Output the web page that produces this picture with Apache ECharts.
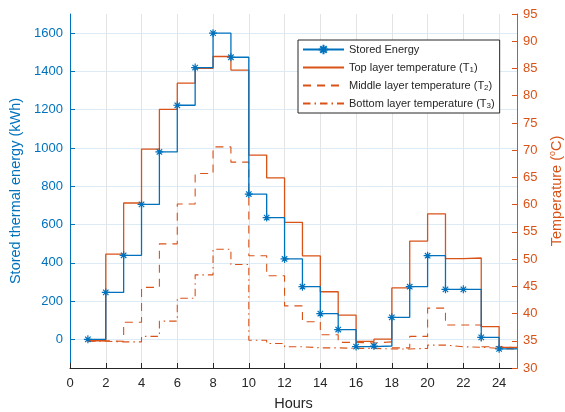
<!DOCTYPE html>
<html><head><meta charset="utf-8">
<script src="https://cdn.jsdelivr.net/npm/echarts@6/dist/echarts.min.js"></script>
<style>html,body{margin:0;padding:0;background:#fff}#c{width:565px;height:412px}</style>
</head><body><div id="c"></div>
<script>
const hours = [1,2,3,4,5,6,7,8,9,10,11,12,13,14,15,16,17,18,19,20,21,22,23,24];
const endHour = 25;
const storedEnergy = [0,245,439,705,979,1223,1420,1600,1474,759,636,420,275,134,51,-38,-35,115,275,437,261,261,10,-50];
const topTemp = [35.0,50.9,60.3,70.2,77.5,82.3,85.0,87.2,84.7,69.1,64.9,56.75,50.6,44.0,39.7,34.9,35.3,44.7,53.3,58.3,50.1,50.2,37.6,33.8];
const midTemp = [35.0,34.9,38.4,44.8,52.8,60.1,65.7,70.6,67.8,50.6,46.95,41.4,38.5,36.1,34.7,34.6,34.8,33.7,35.8,41.0,37.9,37.9,33.9,33.7];
const botTemp = [34.9,34.8,34.8,35.8,38.6,42.8,47.1,51.8,49.0,35.1,34.5,33.9,33.7,33.7,33.6,33.6,33.5,33.5,33.6,34.2,33.9,33.8,33.6,33.5];
const hourTicks = [0,2,4,6,8,10,12,14,16,18,20,22,24];
const energyTicks = [0,200,400,600,800,1000,1200,1400,1600];
const seriesNames = ['Stored Energy','Top layer temperature (T1)','Middle layer temperature (T2)','Bottom layer temperature (T3)'];

const BLUE = '#0072BD', ORANGE = '#D95319', DARK = '#262626';
const FONT = 'Liberation Sans, Arial, Helvetica, sans-serif';
const STAR = 'path://M5,0L5,10M0,5L10,5M1.6,1.6L8.4,8.4M1.6,8.4L8.4,1.6';

function stepData(vals) {
  const d = hours.map((h, i) => [h, vals[i]]);
  d.push({ value: [endHour, vals[vals.length - 1]], symbol: 'none' });
  return d;
}
const plain = v => String(v);
const hiddenSymbol = { color: 'rgba(0,0,0,0)', borderWidth: 0, opacity: 0 };

const chart = echarts.init(document.getElementById('c'), null, { renderer: 'canvas' });
chart.setOption({
  animation: false,
  textStyle: { fontFamily: FONT },
  grid: { left: 70, right: 48, top: 14, bottom: 44, containLabel: false, outerBoundsMode: 'none' },
  legend: {
    orient: 'vertical', left: 298, top: 40,
    padding: [3, 5, 3, 4], itemGap: 5, itemWidth: 41, itemHeight: 12,
    backgroundColor: '#fff', borderColor: DARK, borderWidth: 1,
    data: [
      { name: seriesNames[0] },
      { name: seriesNames[1], itemStyle: hiddenSymbol },
      { name: seriesNames[2], itemStyle: hiddenSymbol },
      { name: seriesNames[3], itemStyle: hiddenSymbol }
    ],
    formatter: n => n.replace(/\(T(\d)\)/, '(T{sub|$1})'),
    textStyle: { fontFamily: FONT, fontSize: 11, color: DARK, lineHeight: 13,
      rich: { sub: { fontFamily: FONT, fontSize: 8, lineHeight: 7, verticalAlign: 'bottom', color: DARK } } }
  },
  xAxis: {
    type: 'value', min: 0, max: endHour, interval: 2,
    name: 'Hours', nameLocation: 'middle', nameGap: 28,
    nameTextStyle: { fontFamily: FONT, fontSize: 14.5, color: DARK },
    axisLine: { show: true, onZero: false, lineStyle: { color: DARK, width: 1 } },
    axisTick: { show: true, inside: true, length: 5, customValues: hourTicks, lineStyle: { color: DARK } },
    axisLabel: { customValues: hourTicks, formatter: plain, fontFamily: FONT, fontSize: 13, color: DARK, margin: 9 },
    splitLine: { show: true, lineStyle: { color: '#e4e4e4', width: 1 } }
  },
  yAxis: [{
    type: 'value', min: -150, max: 1700, position: 'left',
    name: 'Stored thermal energy (kWh)', nameLocation: 'middle', nameGap: 37, nameRotate: 90,
    nameTextStyle: { fontFamily: FONT, fontSize: 14.5, color: BLUE },
    axisLine: { show: true, onZero: false, lineStyle: { color: BLUE, width: 1 } },
    axisTick: { show: true, inside: true, length: 5, customValues: energyTicks, lineStyle: { color: BLUE } },
    axisLabel: { customValues: energyTicks, formatter: plain, fontFamily: FONT, fontSize: 13, color: BLUE, margin: 7 },
    splitLine: { show: true, lineStyle: { color: '#dcebf5', width: 1 } }
  }, {
    type: 'value', min: 30, max: 95, interval: 5, position: 'right',
    name: 'Temperature ({sup|o}C)', nameLocation: 'middle', nameGap: 31, nameRotate: 90,
    nameTextStyle: { fontFamily: FONT, fontSize: 14.5, color: ORANGE, lineHeight: 18,
      rich: { sup: { fontFamily: FONT, fontSize: 9, lineHeight: 9, verticalAlign: 'top', color: ORANGE } } },
    axisLine: { show: true, onZero: false, lineStyle: { color: ORANGE, width: 1 } },
    axisTick: { show: true, inside: true, length: 5, lineStyle: { color: ORANGE } },
    axisLabel: { formatter: plain, fontFamily: FONT, fontSize: 13, color: ORANGE, margin: 6 },
    splitLine: { show: false }
  }],
  series: [{
    name: seriesNames[0], type: 'line', yAxisIndex: 0, step: 'end', z: 5,
    data: stepData(storedEnergy),
    symbol: STAR, symbolSize: 8,
    itemStyle: { color: BLUE, borderColor: BLUE, borderWidth: 1.2 },
    lineStyle: { color: BLUE, width: 1.3 }
  }, {
    name: seriesNames[1], type: 'line', yAxisIndex: 1, step: 'end', z: 4,
    data: stepData(topTemp), symbol: 'none',
    itemStyle: { color: ORANGE },
    lineStyle: { color: ORANGE, width: 1.3 }
  }, {
    name: seriesNames[2], type: 'line', yAxisIndex: 1, step: 'end', z: 3,
    data: stepData(midTemp), symbol: 'none',
    itemStyle: { color: ORANGE },
    lineStyle: { color: ORANGE, width: 1.1, type: [8, 6] }
  }, {
    name: seriesNames[3], type: 'line', yAxisIndex: 1, step: 'end', z: 3,
    data: stepData(botTemp), symbol: 'none',
    itemStyle: { color: ORANGE },
    lineStyle: { color: ORANGE, width: 1.1, type: [7.5, 4, 1.5, 4] }
  }]
});
</script></body></html>
